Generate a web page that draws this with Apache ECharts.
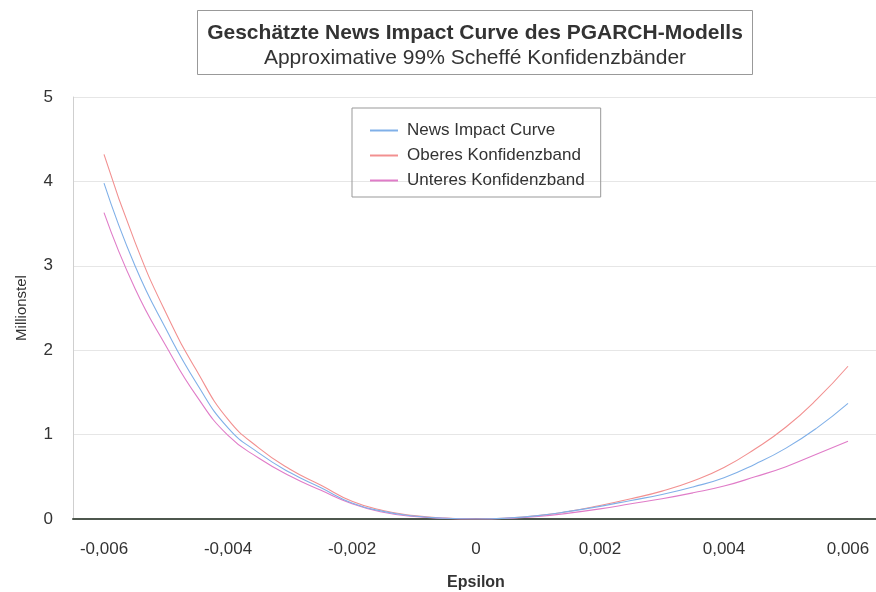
<!DOCTYPE html>
<html>
<head>
<meta charset="utf-8">
<script src="https://cdn.jsdelivr.net/npm/echarts@6/dist/echarts.min.js"></script>
<style>
html,body{margin:0;padding:0;background:#fff;}
#chart{width:876px;height:592px;}
</style>
</head>
<body>
<div id="chart"></div>
<script>
const epsilon = [-0.006,-0.0055,-0.005,-0.0045,-0.004,-0.0035,-0.003,-0.0025,-0.002,-0.0015,-0.001,-0.0005,0,
  0.0005,0.001,0.0015,0.002,0.0025,0.003,0.0035,0.004,0.0045,0.005,0.0055,0.006];
const newsImpact = [3.98,3.00,2.25,1.60,1.08,0.78,0.55,0.37,0.19,0.09,0.035,0.008,0,
  0.01,0.04,0.09,0.15,0.22,0.29,0.38,0.49,0.65,0.84,1.08,1.37];
const oberes = [4.32,3.28,2.44,1.75,1.18,0.84,0.59,0.40,0.21,0.10,0.04,0.01,0,
  0.01,0.04,0.09,0.16,0.24,0.33,0.45,0.61,0.83,1.09,1.42,1.81];
const unteres = [3.63,2.73,2.05,1.45,0.99,0.72,0.51,0.34,0.18,0.08,0.03,0.007,0,
  0.008,0.03,0.07,0.12,0.18,0.24,0.31,0.39,0.50,0.62,0.77,0.92];
const seriesNames = ['News Impact Curve','Oberes Konfidenzband','Unteres Konfidenzband'];
const seriesColors = ['#80b0e8','#f29090','#e07cc8'];

const pairs = arr => epsilon.map((e,i)=>[e,arr[i]]);
const chart = echarts.init(document.getElementById('chart'));
const font = 'Arial, "Liberation Sans", sans-serif';
chart.setOption({
  animation:false,
  backgroundColor:'#fff',
  title:{
    text:'Geschätzte News Impact Curve des PGARCH-Modells',
    subtext:'Approximative 99% Scheffé Konfidenzbänder',
    left:465, top:10, textAlign:'center',
    borderColor:'#999', borderWidth:1,
    padding:[13,10,6,10], itemGap:4,
    textStyle:{fontFamily:font,fontSize:21,lineHeight:21,fontWeight:'bold',color:'#333'},
    subtextStyle:{fontFamily:font,fontSize:21,lineHeight:21,color:'#333'}
  },
  legend:{
    orient:'vertical', left:352, top:108,
    borderColor:'#999', borderWidth:1,
    padding:[14,16,8,18], itemGap:8,
    itemWidth:28, itemHeight:2, icon:'rect',
    textStyle:{fontFamily:font,fontSize:17,lineHeight:17,color:'#333',padding:[0,0,0,4]},
    data:seriesNames.map((n,i)=>({name:n,itemStyle:{color:seriesColors[i]}}))
  },
  grid:{left:73, top:97, width:806, height:422, outerBoundsMode:'none', containLabel:false},
  xAxis:{
    type:'value', min:-0.0065, max:0.0065, interval:0.0005,
    name:'Epsilon', nameLocation:'middle', nameGap:56,
    nameTextStyle:{fontFamily:font,fontSize:16,fontWeight:'bold',color:'#333'},
    axisLine:{show:true,onZero:false,lineStyle:{color:'#4d574d',width:2}},
    axisTick:{show:false},
    splitLine:{show:false},
    axisLabel:{
      fontFamily:font,fontSize:17,color:'#333',margin:22,
      formatter:v=>{
        const k=v/0.002;
        if(Math.abs(k-Math.round(k))>1e-6) return '';
        const r=Math.round(k)*0.002;
        if(Math.abs(r)<1e-12) return '0';
        return r.toFixed(3).replace('.',',');
      }
    }
  },
  yAxis:{
    type:'value', min:0, max:5, interval:1,
    name:'Millionstel', nameLocation:'middle', nameGap:44,
    nameTextStyle:{fontFamily:font,fontSize:15,color:'#333'},
    axisLine:{show:true,onZero:false,lineStyle:{color:'#cfcfcf',width:1}},
    axisTick:{show:false},
    splitLine:{show:true,lineStyle:{color:'#e6e6e6',width:1}},
    axisLabel:{fontFamily:font,fontSize:17,color:'#333',margin:20}
  },
  series:[
    {name:seriesNames[0],type:'line',data:pairs(newsImpact),smooth:true,showSymbol:false,
      lineStyle:{color:seriesColors[0],width:1.1},itemStyle:{color:seriesColors[0]},z:3},
    {name:seriesNames[1],type:'line',data:pairs(oberes),smooth:true,showSymbol:false,
      lineStyle:{color:seriesColors[1],width:1.1},itemStyle:{color:seriesColors[1]},z:2},
    {name:seriesNames[2],type:'line',data:pairs(unteres),smooth:true,showSymbol:false,
      lineStyle:{color:seriesColors[2],width:1.1},itemStyle:{color:seriesColors[2]},z:2}
  ]
});
</script>
</body>
</html>
